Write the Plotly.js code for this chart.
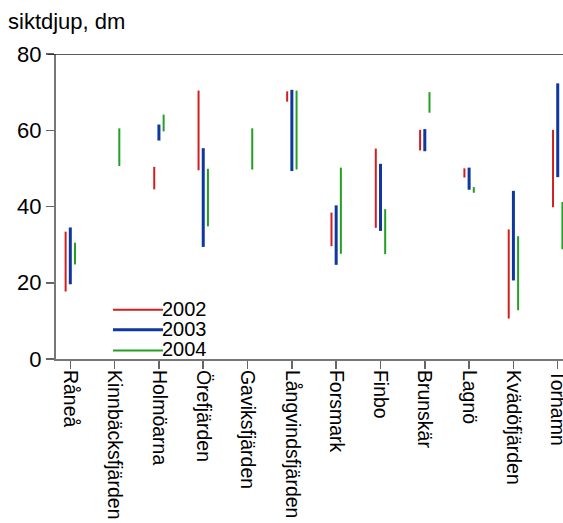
<!DOCTYPE html>
<html>
<head>
<meta charset="utf-8">
<script src="https://cdn.plot.ly/plotly-3.0.1.min.js"></script>
<style>html,body{margin:0;padding:0;background:#fff;}#chart{width:563px;height:523px;}</style>
</head>
<body>
<div id="chart"></div>
<script>
const categories = ['Råneå','Kinnbäcksfjärden','Holmöarna','Örefjärden','Gaviksfjärden','Långvindsfjärden','Forsmark','Finbo','Brunskär','Lagnö','Kvädöfjärden','Torhamn'];
const years = ['2002','2003','2004'];
const low2002  = [17.7, null, 44.5, 49.5, null, 67.5, 29.6, 34.4, 54.7, 47.6, 10.6, 39.8];
const high2002 = [33.4, null, 50.4, 70.4, null, 70.2, 38.4, 55.2, 60.1, 50.0, 34.0, 60.1];
const low2003  = [19.6, null, 57.3, 29.4, null, 49.3, 24.7, 33.6, 54.5, 44.4, 20.6, 47.7];
const high2003 = [34.5, null, 61.5, 55.3, null, 70.6, 40.3, 51.2, 60.3, 50.2, 44.1, 72.3];
const low2004  = [24.8, 50.6, 59.7, 34.8, 49.7, 49.7, 27.6, 27.5, 64.6, 43.6, 12.8, 28.8];
const high2004 = [30.5, 60.5, 64.1, 49.9, 60.5, 70.4, 50.2, 39.3, 70.0, 45.1, 32.2, 41.2];
const yTicks = [0, 20, 40, 60, 80];

const series = [
  {name: years[0], low: low2002, high: high2002, color: 'rgb(210,30,30)', width: 2, off: -0.106},
  {name: years[1], low: low2003, high: high2003, color: 'rgb(15,55,160)', width: 3, off: 0},
  {name: years[2], low: low2004, high: high2004, color: 'rgb(35,160,35)', width: 2, off: 0.106}
];

const FONT = '"Liberation Sans", Arial, Helvetica, sans-serif';

const traces = series.map(s => {
  const xs = [], ys = [];
  categories.forEach((c, i) => {
    if (s.low[i] == null || s.high[i] == null) return;
    xs.push(i + s.off, i + s.off, null);
    ys.push(s.low[i], s.high[i], null);
  });
  return {
    type: 'scatter', mode: 'lines', name: s.name, x: xs, y: ys,
    line: {color: s.color, width: s.width}, hoverinfo: 'skip', connectgaps: false, showlegend: false
  };
});

// manual legend (layout decoration), positions in plot-paper fractions
const legX0 = 0.1124, legX1 = 0.211;
const legY = [0.1615, 0.096, 0.0282];
const shapes = [{type: 'line', xref: 'paper', yref: 'y', x0: -0.016, x1: 1, y0: 80, y1: 80, line: {color: '#222', width: 1.5}}];
const annotations = [];
series.forEach((s, k) => {
  shapes.push({type: 'line', xref: 'paper', yref: 'paper', x0: legX0, x1: legX1, y0: legY[k], y1: legY[k],
    line: {color: s.color, width: s.width}});
  annotations.push({xref: 'paper', yref: 'paper', x: legX1, y: legY[k], xanchor: 'left', yanchor: 'middle',
    text: s.name, showarrow: false, xshift: -3, yshift: 1, font: {family: FONT, size: 20, color: '#000'}});
});

const layout = {
  width: 563, height: 523,
  margin: {l: 56, r: 0, t: 54, b: 164, pad: 0},
  paper_bgcolor: '#fff', plot_bgcolor: '#fff',
  font: {family: FONT, size: 20, color: '#000'},
  title: {text: 'siktdjup, dm', font: {family: FONT, size: 22, color: '#000'},
    xref: 'container', yref: 'container', x: 8/563, xanchor: 'left', y: 1 - 21/523, yanchor: 'middle'},
  showlegend: false,
  xaxis: {
    range: [-0.323, 11.119], tickmode: 'array', tickvals: categories.map((c, i) => i), ticktext: categories,
    tickangle: 90, ticks: 'outside', ticklen: 8, tickwidth: 1.5, tickcolor: '#666', ticklabeloverflow: 'allow',
    ticklabelstandoff: -3,
    showline: true, linecolor: '#777', linewidth: 2, showgrid: false, zeroline: false,
    tickfont: {family: FONT, size: 19.5, color: '#000'}, fixedrange: true
  },
  yaxis: {
    range: [0, 80], tickmode: 'array', tickvals: yTicks, ticks: 'outside', ticklen: 8, tickwidth: 1.5, tickcolor: '#666',
    showline: true, linecolor: '#777', linewidth: 2, showgrid: false, zeroline: false,
    tickfont: {family: FONT, size: 22, color: '#000'}, fixedrange: true
  },
  shapes: shapes,
  annotations: annotations
};

Plotly.newPlot('chart', traces, layout, {displayModeBar: false, staticPlot: true});
</script>
</body>
</html>
